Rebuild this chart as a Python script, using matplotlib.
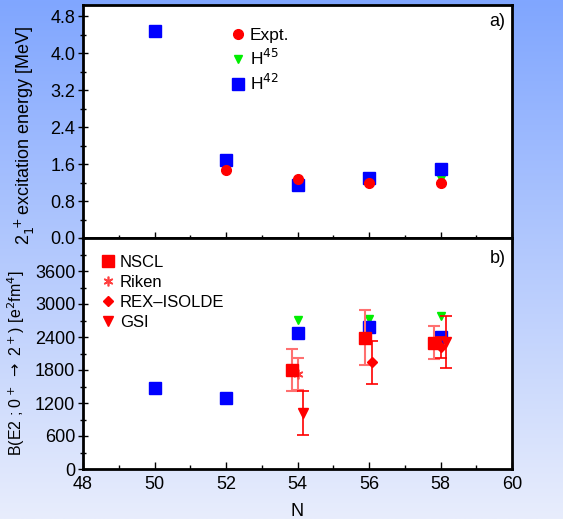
import numpy as np
import matplotlib.pyplot as plt
from matplotlib.lines import Line2D
from matplotlib.ticker import MultipleLocator, FormatStrFormatter

plt.rcParams['font.family'] = ['Liberation Sans', 'DejaVu Sans']

# panel a) 2+ excitation energy [MeV]
n_expt = [52, 54, 56, 58]
e_expt = [1.47, 1.27, 1.20, 1.20]
n_h45 = [54, 56, 58]
e_h45 = [1.20, 1.28, 1.27]
n_h42 = [50, 52, 54, 56, 58]
e_h42 = [4.48, 1.69, 1.15, 1.30, 1.49]
ticks_a = [0.0, 0.8, 1.6, 2.4, 3.2, 4.0, 4.8]

# panel b) B(E2) [e^2 fm^4]
b_h45_n = [54, 56, 58]
b_h45 = [2710, 2720, 2790]
b_h42_n = [50, 52, 54, 56, 58]
b_h42 = [1470, 1285, 2470, 2590, 2405]
ticks_b = [0, 600, 1200, 1800, 2400, 3000, 3600]

nscl_n = [53.84, 55.88, 57.83]
nscl_b = [1800, 2390, 2300]
nscl_err = [380, 500, 300]

riken_n = [54.0]
riken_b = [1725]
riken_err = [290]

rex_n = [56.09, 58.0]
rex_b = [1940, 2210]
rex_err = [395, 185]

gsi_n = [54.14, 58.15]
gsi_b = [1010, 2310]
gsi_err = [400, 470]

fig = plt.figure(figsize=(5.63, 5.19), dpi=100)

# background gradient
bg = fig.add_axes([0, 0, 1, 1], zorder=-10)
grad = np.linspace(0, 1, 256).reshape(-1, 1)
top_c = np.array([128, 166, 255]) / 255
bot_c = np.array([232, 237, 252]) / 255
img = top_c[None, None, :] * (1 - grad[:, :, None]) + bot_c[None, None, :] * grad[:, :, None]
bg.imshow(img, aspect='auto', extent=[0, 1, 0, 1])
bg.axis('off')

left, right = 83 / 563, 512 / 563
y_mid = 1 - 238 / 519
y_bot = 1 - 469 / 519
y_top = 1 - 5 / 519
ax1 = fig.add_axes([left, y_mid, right - left, y_top - y_mid])
ax2 = fig.add_axes([left, y_bot, right - left, y_mid - y_bot])

asterisk = (6, 2, 0)

for ax in (ax1, ax2):
    for s in ax.spines.values():
        s.set_linewidth(2)
    ax.set_xlim(48, 60)
    ax.xaxis.set_major_locator(MultipleLocator(2))
    ax.xaxis.set_minor_locator(MultipleLocator(1))
    ax.tick_params(axis='y', which='major', direction='inout', length=7, width=1, labelsize=13, pad=2)
    ax.tick_params(axis='y', which='minor', direction='inout', length=4, width=1)

# ---- panel a
ax1.plot(n_h45, e_h45, 'v', color='#00ee00', ms=6, ls='none', zorder=3)
ax1.plot(n_h42, e_h42, 's', color='#0000ff', ms=8, ls='none', zorder=4)
ax1.plot(n_expt, e_expt, 'o', color='#ff0000', ms=7, ls='none', zorder=5)
ax1.set_ylim(0, 5.04)
ax1.set_yticks(ticks_a)
ax1.yaxis.set_minor_locator(MultipleLocator(0.4))
ax1.yaxis.set_major_formatter(FormatStrFormatter('%.1f'))
ax1.tick_params(axis='x', which='major', direction='inout', length=8, width=1, labelbottom=False)
ax1.tick_params(axis='x', which='minor', direction='inout', length=5, width=1)
ax1.set_ylabel(r'2$_1^{\ +}$excitation energy [MeV]', fontsize=13)
ax1.yaxis.set_label_coords(-0.108, 0.44)
ax1.text(0.985, 0.965, 'a)', transform=ax1.transAxes, ha='right', va='top', fontsize=13)

h1 = [Line2D([], [], marker='o', color='#ff0000', ls='none', ms=7),
      Line2D([], [], marker='v', color='#00ee00', ls='none', ms=6),
      Line2D([], [], marker='s', color='#0000ff', ls='none', ms=8)]
ax1.legend(h1, ['Expt.', r'H$^{45}$', r'H$^{42}$'], loc='upper left',
           bbox_to_anchor=(0.3, 0.97), frameon=False, fontsize=12.5,
           handletextpad=0.1, labelspacing=0.3, handlelength=1.2)

# ---- panel b
ax2.plot(b_h45_n, b_h45, 'v', color='#00ee00', ms=6, ls='none', zorder=3)
ax2.plot(b_h42_n, b_h42, 's', color='#0000ff', ms=8, ls='none', zorder=4)
ax2.errorbar(nscl_n, nscl_b, yerr=nscl_err, fmt='s', color='#ff0000', ms=8,
             ecolor='#ff7070', elinewidth=1.5, capsize=4, capthick=1.5, zorder=5)
ax2.errorbar(riken_n, riken_b, yerr=riken_err, fmt='none', ecolor='#ff7070',
             elinewidth=1.5, capsize=4, capthick=1.5, zorder=5)
ax2.plot(riken_n, riken_b, marker=asterisk, color='#ff4040', mew=1.2, ms=7, ls='none', zorder=5)
ax2.errorbar(rex_n, rex_b, yerr=rex_err, fmt='D', color='#ff0000', ms=5,
             ecolor='#ff0000', elinewidth=1.2, capsize=4, capthick=1.2, zorder=6)
ax2.errorbar(gsi_n, gsi_b, yerr=gsi_err, fmt='v', color='#ff0000', ms=6.5,
             ecolor='#ff0000', elinewidth=1.2, capsize=4, capthick=1.2, zorder=6)
ax2.set_ylim(0, 4200)
ax2.set_yticks(ticks_b)
ax2.yaxis.set_minor_locator(MultipleLocator(300))
ax2.tick_params(axis='x', which='major', direction='in', length=5, width=1, labelsize=13, pad=5)
ax2.tick_params(axis='x', which='minor', direction='in', length=3, width=1)
ax2.set_ylabel(r'B(E2 ; 0$^+$ $\rightarrow$ 2$^+$) [e$^2$fm$^4$]', fontsize=11.5)
ax2.yaxis.set_label_coords(-0.13, 0.46)
ax2.set_xlabel('N', fontsize=13, labelpad=7)
ax2.text(0.985, 0.95, 'b)', transform=ax2.transAxes, ha='right', va='top', fontsize=13)

h2 = [Line2D([], [], marker='s', color='#ff0000', ls='none', ms=8),
      Line2D([], [], marker=asterisk, color='#ff4040', mew=1.2, ls='none', ms=7),
      Line2D([], [], marker='D', color='#ff0000', ls='none', ms=5),
      Line2D([], [], marker='v', color='#ff0000', ls='none', ms=6.5)]
ax2.legend(h2, ['NSCL', 'Riken', 'REX\u2013ISOLDE', 'GSI'], loc='upper left',
           bbox_to_anchor=(0.0, 0.99), frameon=False, fontsize=12,
           handletextpad=0.1, labelspacing=0.3, handlelength=1.2)

fig.savefig('out.png', dpi=100)
